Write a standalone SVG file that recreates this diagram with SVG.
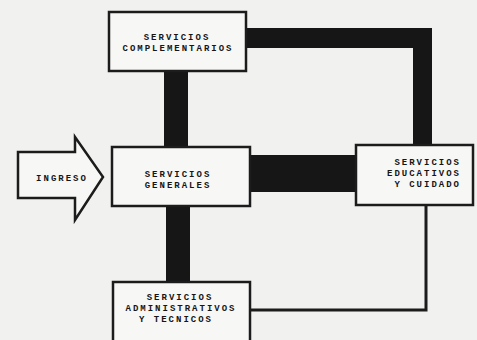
<svg xmlns="http://www.w3.org/2000/svg" width="477" height="340" viewBox="0 0 477 340">
<style>
.box{fill:#f7f7f5;stroke:#1c1c1c;stroke-width:2.5}
.bar{fill:#161616}
.thin{fill:none;stroke:#1c1c1c;stroke-width:3}
.t{font-family:"Liberation Mono","DejaVu Sans Mono",monospace;font-size:9px;font-weight:bold;fill:#151515;text-anchor:middle;letter-spacing:2px}
.r{text-anchor:end}
</style>
<rect x="0" y="0" width="477" height="340" fill="#f1f1ef"/>
<g id="connectors">
<path class="bar" d="M245 28 H432 V146 H413 V48 H245 Z"/>
<rect class="bar" x="164" y="70" width="24" height="78"/>
<rect class="bar" x="249" y="155" width="108" height="37"/>
<rect class="bar" x="166" y="205" width="24" height="78"/>
<polyline class="thin" points="426,205 426,310 249,310"/>
</g>
<g id="ingreso">
<polygon class="box" points="18,152 75,152 75,137 103,177 75,220 75,198 18,198"/>
<text class="t" x="62" y="181">INGRESO</text>
</g>
<g id="complementarios">
<rect class="box" x="109" y="12" width="137" height="59"/>
<text class="t" x="177" y="40">SERVICIOS</text>
<text class="t" x="178" y="51">COMPLEMENTARIOS</text>
</g>
<g id="generales">
<rect class="box" x="112" y="147" width="138" height="59"/>
<text class="t" x="178" y="177">SERVICIOS</text>
<text class="t" x="178" y="188">GENERALES</text>
</g>
<g id="educativos">
<rect class="box" x="356" y="145" width="117" height="60"/>
<text class="t r" x="461" y="165">SERVICIOS</text>
<text class="t r" x="461" y="176">EDUCATIVOS</text>
<text class="t r" x="461" y="187">Y CUIDADO</text>
</g>
<g id="administrativos">
<rect class="box" x="113" y="282" width="137" height="62"/>
<text class="t" x="180" y="300">SERVICIOS</text>
<text class="t" x="181" y="311">ADMINISTRATIVOS</text>
<text class="t" x="176" y="322">Y TECNICOS</text>
</g>
</svg>
